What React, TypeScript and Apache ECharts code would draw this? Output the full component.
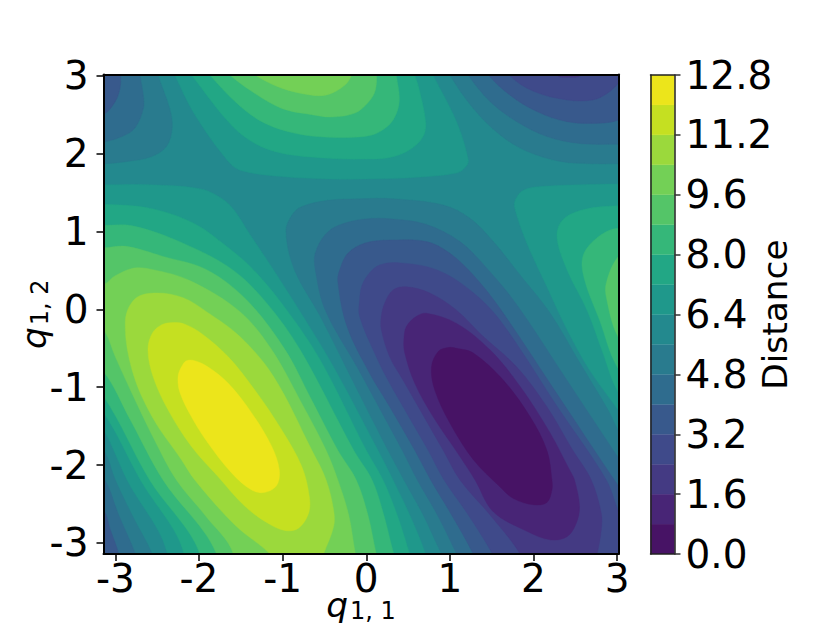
import React, { useEffect, useRef } from "react";
import * as echarts from "echarts";

type Pt = number[];

const xTicks = [-3, -2, -1, 0, 1, 2, 3];
const yTicks = [-3, -2, -1, 0, 1, 2, 3];
const axisMin = -3.1416;
const axisMax = 3.016;
const barLevels = [0, 0.8, 1.6, 2.4, 3.2, 4, 4.8, 5.6, 6.4, 7.2, 8, 8.8, 9.6, 10.4, 11.2, 12, 12.8];
const bandColors = ["#471365", "#482576", "#443a83", "#3f4a8a", "#38598c", "#2f6c8e", "#297b8e", "#23898e", "#1f988b", "#22a785", "#35b779", "#54c568", "#73d056", "#9bd93c", "#c5e021", "#ece51b"];

// Contour outlines, in data units (q1,1 ; q1,2).
const whole: Pt[] = [[-4, -4], [4, -4], [4, 4], [-4, 4]];

const above6_4Top: Pt[] = [[-2.42, 3.3], [-2.29, 3.01], [-2.05, 2.5], [-1.65, 1.9], [-1.49, 1.78], [-1.01, 1.705], [-0.45, 1.675], [0, 1.675], [0.52, 1.69], [1.08, 1.75], [1.19, 1.83], [1.22, 1.92], [1.08, 2.41], [0.8, 3.01], [0.68, 3.3], [-0.8, 3.5]];
const above7_2Top: Pt[] = [[-2.3, 3.3], [-2.09, 3.01], [-1.65, 2.41], [-1.37, 2.155], [-1.01, 2.005], [-0.45, 1.94], [-0.02, 1.93], [0.28, 1.95], [0.52, 2.05], [0.68, 2.22], [0.71, 2.41], [0.62, 2.88], [0.58, 3.01], [0.52, 3.3], [-0.8, 3.5]];
const above8_0Top: Pt[] = [[-2.1, 3.3], [-1.87, 3.01], [-1.57, 2.67], [-1.25, 2.41], [-0.85, 2.26], [-0.45, 2.21], [-0.02, 2.22], [0.16, 2.28], [0.32, 2.43], [0.395, 2.67], [0.36, 3.01], [0.33, 3.3], [-0.8, 3.5]];
const above8_8Top: Pt[] = [[-1.9, 3.3], [-1.63, 3.01], [-1.37, 2.8], [-1.01, 2.58], [-0.65, 2.5], [-0.41, 2.47], [-0.135, 2.52], [0.025, 2.66], [0.105, 2.8], [0.125, 3.01], [0.12, 3.3], [-0.8, 3.5]];
const above9_6Top: Pt[] = [[-1.7, 3.3], [-1.33, 3.01], [-1.01, 2.84], [-0.65, 2.75], [-0.45, 2.76], [-0.255, 2.88], [-0.175, 3.01], [-0.1, 3.3], [-0.8, 3.5]];

const above6_4Left: Pt[] = [[-3.5, 1.6], [-3.14, 1.6], [-2.59, 1.6], [-1.99, 1.55], [-1.75, 1.44], [-1.59, 1.29], [-1.39, 0.96], [-1.11, 0.51], [-0.79, -0.03], [-0.39, -0.74], [0.14, -1.81], [0.32, -2.19], [0.52, -2.64], [0.71, -3.14], [0.82, -3.54], [-2.6, -3.54], [-2.38, -3.14], [-2.86, -2.19], [-3.14, -1.55], [-3.36, -1.29], [-3.7, -0.5]];
const above7_2Left: Pt[] = [[-3.5, 1.36], [-3.14, 1.35], [-2.59, 1.3], [-2.07, 1.11], [-1.67, 0.81], [-1.35, 0.51], [-0.95, -0.01], [-0.55, -0.65], [0, -1.81], [0.2, -2.19], [0.37, -2.64], [0.52, -3.14], [0.64, -3.54], [-2.41, -3.54], [-2.18, -3.14], [-2.7, -2.19], [-3.14, -1.33], [-3.36, -1.16], [-3.7, -0.5]];
const above8_0Left: Pt[] = [[-3.5, 1.08], [-3.14, 1.08], [-2.78, 1.07], [-2.19, 0.85], [-1.6, 0.51], [-1.19, 0.08], [-0.79, -0.52], [-0.15, -1.81], [0.07, -2.19], [0.21, -2.64], [0.33, -3.14], [0.46, -3.54], [-2.17, -3.54], [-1.99, -3.14], [-2.59, -2.19], [-3.14, -1.12], [-3.36, -0.97], [-3.7, -0.2]];
const above8_8Left: Pt[] = [[-3.5, 0.79], [-3.14, 0.79], [-2.87, 0.81], [-2.43, 0.68], [-1.91, 0.51], [-1.43, 0.12], [-0.97, -0.52], [-0.67, -1.13], [-0.34, -1.81], [-0.12, -2.19], [0.02, -2.64], [0.12, -3.14], [0.22, -3.54], [-1.93, -3.54], [-1.79, -3.14], [-2.43, -2.19], [-2.82, -1.42], [-3.14, -0.8], [-3.36, -0.68], [-3.7, 0]];
const above9_6Left: Pt[] = [[-3.5, 0.2], [-3.12, 0.33], [-3.02, 0.42], [-2.78, 0.53], [-2.55, 0.51], [-2.11, 0.37], [-1.51, -0.03], [-1.13, -0.52], [-0.79, -1.17], [-0.48, -1.81], [-0.34, -2.19], [-0.21, -2.64], [-0.13, -3.14], [-0.05, -3.54], [-1.69, -3.54], [-1.59, -3.14], [-1.93, -2.64], [-2.27, -2.19], [-2.53, -1.68], [-2.8, -1.08], [-3.0, -0.61], [-3.12, -0.29], [-3.36, 0.06]];
const above10_4Left: Pt[] = [[-2.51, 0.21], [-2.76, 0.14], [-2.88, -0.14], [-2.8, -0.78], [-2.56, -1.38], [-2.21, -1.93], [-2.05, -2.19], [-1.57, -2.77], [-1.15, -3.14], [-0.97, -3.41], [-0.61, -3.41], [-0.51, -3.14], [-0.39, -2.79], [-0.39, -2.58], [-0.48, -2.19], [-0.65, -1.81], [-1.11, -0.86], [-1.51, -0.35], [-1.91, -0.03], [-2.19, 0.15]];
const above11_2Left: Pt[] = [[-2.31, -0.17], [-2.45, -0.2], [-2.56, -0.31], [-2.61, -0.52], [-2.55, -0.86], [-2.37, -1.29], [-2.09, -1.76], [-1.77, -2.15], [-1.45, -2.53], [-1.17, -2.75], [-0.97, -2.84], [-0.81, -2.81], [-0.69, -2.62], [-0.68, -2.41], [-0.77, -2.02], [-1.01, -1.55], [-1.33, -1.04], [-1.65, -0.61], [-1.97, -0.31], [-2.17, -0.19]];
const above12_0Left: Pt[] = [[-2.15, -0.66], [-2.05, -0.66], [-1.89, -0.74], [-1.65, -0.95], [-1.37, -1.33], [-1.13, -1.76], [-1.04, -2.06], [-1.07, -2.26], [-1.21, -2.35], [-1.37, -2.32], [-1.61, -2.1], [-1.89, -1.72], [-2.09, -1.38], [-2.23, -1.06], [-2.25, -0.86], [-2.21, -0.74]];

const above6_4Right: Pt[] = [[3.6, 1.6], [3.01, 1.61], [2.12, 1.58], [1.88, 1.53], [1.78, 1.4], [1.78, 1.28], [1.92, 0.85], [2.16, 0.29], [2.4, -0.26], [2.67, -0.78], [3.01, -1.29], [3.27, -1.68], [3.6, -2]];
const above7_2Right: Pt[] = [[3.6, 1.33], [3.0, 1.33], [2.59, 1.28], [2.35, 1.15], [2.28, 0.93], [2.4, 0.51], [2.64, -0.01], [2.83, -0.56], [3.0, -1.04], [3.27, -1.42], [3.6, -1.6]];
const above8_0Right: Pt[] = [[3.6, 1.0], [3.0, 1.04], [2.75, 0.91], [2.59, 0.68], [2.61, 0.38], [2.79, -0.14], [3.0, -0.74], [3.3, -1.1], [3.6, -1.2]];
const above8_8Right: Pt[] = [[3.6, 1.1], [3.3, 0.95], [3.0, 0.66], [2.87, 0.34], [2.87, 0.16], [3.0, -0.33], [3.3, -0.8], [3.6, -0.9]];

const below5_6TopLeft: Pt[] = [[-2.56, 3.3], [-2.49, 3.01], [-2.35, 2.58], [-2.32, 2.33], [-2.39, 2.09], [-2.57, 1.96], [-2.85, 1.9], [-3.13, 1.87], [-3.5, 1.85], [-3.5, 3.4]];
const below4_8TopLeft: Pt[] = [[-2.72, 3.3], [-2.705, 3.01], [-2.665, 2.75], [-2.665, 2.58], [-2.765, 2.33], [-2.92, 2.22], [-3.13, 2.15], [-3.4, 2.1], [-3.5, 3.4]];
const below4_0TopLeft: Pt[] = [[-2.93, 3.3], [-2.936, 3.01], [-2.944, 2.84], [-3.0, 2.67], [-3.13, 2.51], [-3.4, 2.4], [-3.5, 3.4]];

const below5_6BottomLeft: Pt[] = [[-3.5, -1.4], [-3.14, -1.81], [-3.0, -2.19], [-2.8, -2.64], [-2.56, -3.14], [-2.45, -3.54], [-3.7, -3.6]];
const below4_8BottomLeft: Pt[] = [[-3.5, -1.8], [-3.14, -2.17], [-2.96, -2.64], [-2.76, -3.14], [-2.65, -3.54], [-3.7, -3.6]];
const below4_0BottomLeft: Pt[] = [[-3.5, -2.2], [-3.14, -2.58], [-3.06, -2.83], [-2.96, -3.14], [-2.9, -3.54], [-3.7, -3.6]];

const below5_6TopRight: Pt[] = [[0.88, 3.3], [1.0, 3.01], [1.28, 2.58], [1.6, 2.24], [1.92, 2.03], [2.32, 1.9], [2.71, 1.87], [3.01, 1.87], [3.6, 1.87], [3.6, 3.5], [0.85, 3.5]];
const below4_8TopRight: Pt[] = [[1.08, 3.3], [1.22, 3.01], [1.48, 2.67], [1.8, 2.41], [2.16, 2.22], [2.55, 2.13], [3.01, 2.12], [3.6, 2.12], [3.6, 3.5], [1.05, 3.5]];
const below4_0TopRight: Pt[] = [[1.28, 3.3], [1.46, 3.01], [1.72, 2.75], [2.04, 2.54], [2.4, 2.41], [2.79, 2.39], [3.01, 2.43], [3.6, 2.7], [3.6, 3.5], [1.25, 3.5]];
const below3_2TopRight: Pt[] = [[1.45, 3.4], [1.72, 3.0], [2.0, 2.8], [2.4, 2.69], [2.71, 2.69], [2.89, 2.78], [3.01, 2.9], [3.3, 3.3], [3.6, 3.5]];
const below2_4TopRight: Pt[] = [[2.15, 3.3], [2.28, 3.01], [2.43, 2.98], [2.57, 3.01], [2.7, 3.3]];

const below5_6Center: Pt[] = [[-0.08, 1.42], [0.32, 1.42], [0.92, 1.34], [1.24, 1.17], [1.52, 0.87], [1.84, 0.44], [2.2, -0.05], [2.55, -0.68], [2.89, -1.29], [3.01, -1.55], [3.27, -2.0], [3.6, -3.6], [1.1, -3.54], [0.9, -3.14], [0.68, -2.64], [0.45, -2.19], [0.26, -1.81], [-0.11, -1.03], [-0.55, -0.09], [-0.86, 0.51], [-0.96, 1.0], [-0.89, 1.21], [-0.77, 1.32], [-0.46, 1.4]];
const below4_8Center: Pt[] = [[-0.02, 1.16], [0.32, 1.16], [0.72, 1.09], [1.12, 0.87], [1.44, 0.53], [1.8, 0.06], [2.4, -0.91], [3.01, -1.9], [3.27, -2.32], [3.6, -3.6], [1.25, -3.54], [1.08, -3.14], [0.85, -2.64], [0.61, -2.19], [0.43, -1.81], [0.28, -1.51], [-0.11, -0.74], [-0.49, -0.01], [-0.61, 0.51], [-0.61, 0.72], [-0.49, 0.96], [-0.33, 1.08]];
const below4_0Center: Pt[] = [[-0.02, 0.85], [0.28, 0.89], [0.72, 0.87], [1.0, 0.72], [1.28, 0.44], [1.6, 0.01], [2.29, -1.1], [3.01, -2.26], [3.27, -2.64], [3.6, -3.6], [1.45, -3.54], [1.28, -3.14], [1.02, -2.64], [0.77, -2.19], [0.58, -1.81], [0.28, -1.25], [0.04, -0.82], [-0.23, -0.22], [-0.34, 0.36], [-0.31, 0.53], [-0.22, 0.72]];
const below3_2Center: Pt[] = [[0.38, 0.6], [0.84, 0.51], [1.24, 0.25], [1.6, -0.14], [2.31, -1.29], [2.87, -2.19], [3.01, -2.58], [3.27, -3.22], [3.6, -3.6], [1.7, -3.54], [1.51, -3.14], [1.22, -2.64], [0.93, -2.19], [0.74, -1.81], [0.28, -0.95], [0.12, -0.61], [-0.08, -0.09], [-0.08, 0.12], [-0.05, 0.31], [0.04, 0.47], [0.16, 0.57]];
const below2_4Center: Pt[] = [[0.48, 0.29], [0.76, 0.21], [1.08, -0.01], [1.4, -0.35], [1.8, -0.74], [2.16, -1.25], [2.47, -1.81], [2.69, -2.19], [2.81, -2.62], [2.81, -2.83], [2.76, -3.14], [2.67, -3.48], [1.96, -3.48], [1.84, -3.14], [1.48, -2.64], [1.12, -2.19], [0.92, -1.81], [0.44, -0.91], [0.28, -0.61], [0.18, -0.26], [0.18, -0.09], [0.22, 0.08], [0.32, 0.25]];
const below1_6Center: Pt[] = [[0.72, -0.05], [1.08, -0.18], [1.48, -0.52], [1.84, -0.99], [2.2, -1.59], [2.43, -2.06], [2.49, -2.19], [2.55, -2.53], [2.51, -2.75], [2.4, -2.92], [2.2, -2.96], [1.92, -2.85], [1.52, -2.6], [1.3, -2.19], [1.12, -1.89], [0.8, -1.38], [0.58, -0.95], [0.46, -0.56], [0.45, -0.39], [0.48, -0.22], [0.6, -0.09]];
const below0_8Center: Pt[] = [[0.98, -0.49], [1.08, -0.5], [1.28, -0.56], [1.64, -0.91], [1.96, -1.38], [2.16, -1.81], [2.22, -2.19], [2.22, -2.32], [2.16, -2.48], [2.0, -2.51], [1.76, -2.43], [1.6, -2.28], [1.28, -1.93], [1.0, -1.46], [0.82, -1.04], [0.78, -0.74], [0.86, -0.54]];

// Painting order: [band index, outline]
const regions: [number, Pt[]][] = [
  [7, whole],
  [8, above6_4Top], [8, above6_4Left], [8, above6_4Right],
  [9, above7_2Top], [9, above7_2Left], [9, above7_2Right],
  [10, above8_0Top], [10, above8_0Left], [10, above8_0Right],
  [11, above8_8Top], [11, above8_8Left], [11, above8_8Right],
  [12, above9_6Top], [12, above9_6Left],
  [13, above10_4Left],
  [14, above11_2Left],
  [15, above12_0Left],
  [6, below5_6TopLeft], [6, below5_6BottomLeft], [6, below5_6TopRight], [6, below5_6Center],
  [5, below4_8TopLeft], [5, below4_8BottomLeft], [5, below4_8TopRight], [5, below4_8Center],
  [4, below4_0TopLeft], [4, below4_0BottomLeft], [4, below4_0TopRight], [4, below4_0Center],
  [3, below3_2TopRight], [3, below3_2Center],
  [2, below2_4TopRight], [2, below2_4Center],
  [1, below1_6Center],
  [0, below0_8Center],
];

const FONT = "DejaVu Sans";
const TICK_SIZE = 39;
const TITLE_SIZE = 34.4;
const SUB_SIZE = 24;
const axisRich = {
  q: { fontFamily: FONT, fontStyle: "italic", fontSize: TITLE_SIZE, color: "#000" },
  s: { fontFamily: FONT, fontSize: SUB_SIZE, color: "#000", padding: [12, 0, 0, 2] },
};
const lineStyle = { color: "#000", width: 2 };
const hiddenX = (gridIndex: number, position: string, min: number, max: number) => ({
  type: "value", gridIndex, position, min, max, z: 5,
  axisLine: { show: true, onZero: false, lineStyle },
  axisTick: { show: false }, axisLabel: { show: false }, splitLine: { show: false },
});

export default function App() {
  const ref = useRef<HTMLDivElement>(null);
  useEffect(() => {
    document.body.style.margin = "0";
    const chart = echarts.init(ref.current!, null, { renderer: "svg" });
    const barFrame = { color: "#222", width: 1.5 };
    chart.setOption({
      animation: false,
      backgroundColor: "#fff",
      grid: [
        { left: 103.5, top: 74.5, width: 515, height: 479.5, outerBoundsMode: "none" },
        { left: 650.5, top: 75, width: 24, height: 479, outerBoundsMode: "none" },
      ],
      xAxis: [
        {
          type: "value", gridIndex: 0, position: "bottom", min: axisMin, max: axisMax, z: 5,
          axisLine: { show: true, onZero: false, lineStyle },
          axisTick: { show: true, customValues: xTicks, length: 7, lineStyle: { color: "#000", width: 1.5 } },
          axisLabel: { show: true, customValues: xTicks, fontFamily: FONT, fontSize: TICK_SIZE, color: "#000", margin: 5, hideOverlap: false },
          splitLine: { show: false },
          name: "{q|q}{s|1, 1}", nameLocation: "middle", nameGap: 33, nameMoveOverlap: false,
          nameTextStyle: { rich: axisRich },
        },
        hiddenX(0, "top", axisMin, axisMax),
        { ...hiddenX(1, "bottom", 0, 1), axisLine: { show: true, onZero: false, lineStyle: barFrame } },
        { ...hiddenX(1, "top", 0, 1), axisLine: { show: true, onZero: false, lineStyle: barFrame } },
      ],
      yAxis: [
        {
          type: "value", gridIndex: 0, position: "left", min: axisMin, max: axisMax, z: 5,
          axisLine: { show: true, onZero: false, lineStyle },
          axisTick: { show: true, customValues: yTicks, length: 7, lineStyle: { color: "#000", width: 1.5 } },
          axisLabel: { show: true, customValues: yTicks, fontFamily: FONT, fontSize: TICK_SIZE, color: "#000", margin: 15, hideOverlap: false },
          splitLine: { show: false },
          name: "{q|q}{s|1, 2}", nameLocation: "middle", nameGap: 52, nameMoveOverlap: false,
          nameTextStyle: { rich: axisRich },
        },
        hiddenX(0, "right", axisMin, axisMax),
        { ...hiddenX(1, "left", 0, 12.8), axisLine: { show: true, onZero: false, lineStyle: barFrame } },
        {
          type: "value", gridIndex: 1, position: "right", min: 0, max: 12.8, interval: 1.6, z: 5,
          axisLine: { show: true, onZero: false, lineStyle: barFrame },
          axisTick: { show: true, length: 6, lineStyle: { color: "#333", width: 1.5 } },
          axisLabel: { show: true, fontFamily: FONT, fontSize: TICK_SIZE, color: "#000", margin: 11, showMinLabel: true, showMaxLabel: true, hideOverlap: false, formatter: (v: number) => v.toFixed(1) },
          splitLine: { show: false },
          name: "Distance", nameLocation: "middle", nameRotate: 90, nameGap: 83, nameMoveOverlap: false,
          nameTextStyle: { fontFamily: FONT, fontSize: TITLE_SIZE, color: "#000" },
        },
      ],
      series: [
        {
          type: "custom", coordinateSystem: "cartesian2d", xAxisIndex: 0, yAxisIndex: 0,
          clip: true, silent: true, z: 1,
          data: regions.map(() => [0, 0]),
          renderItem: (params: any, api: any) => {
            const [band, outline] = regions[params.dataIndex];
            const color = bandColors[band];
            return {
              type: "polygon",
              shape: { points: outline.map((p) => api.coord(p)), smooth: 0.35 },
              style: { fill: color, stroke: color, lineWidth: 0.4 },
            };
          },
        },
        {
          type: "custom", coordinateSystem: "cartesian2d", xAxisIndex: 2, yAxisIndex: 3,
          clip: true, silent: true, z: 1,
          data: bandColors.map(() => [0, 0]),
          renderItem: (params: any, api: any) => {
            const i = params.dataIndex;
            const a = api.coord([0, barLevels[i]]);
            const b = api.coord([1, barLevels[i + 1]]);
            return {
              type: "rect",
              shape: { x: a[0], y: b[1], width: b[0] - a[0], height: a[1] - b[1] },
              style: { fill: bandColors[i], stroke: bandColors[i], lineWidth: 0.3 },
            };
          },
        },
      ],
    });
    return () => chart.dispose();
  }, []);
  return <div ref={ref} style={{ position: "absolute", left: 0, top: 0, width: 830, height: 623 }} />;
}
